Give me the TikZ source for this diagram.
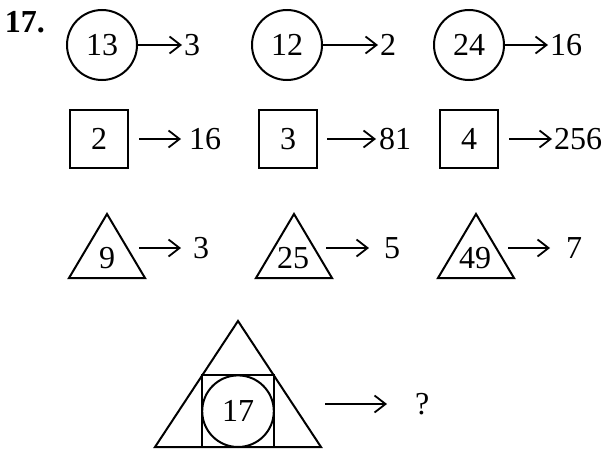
\documentclass[tikz,border=0pt]{standalone}
\usepackage{fontspec}
\setmainfont{Liberation Serif}
\usetikzlibrary{arrows.meta,calc}
\begin{document}
\begin{tikzpicture}[x=1pt,y=-1pt,
  every node/.style={font=\fontsize{32}{36}\selectfont, inner sep=0pt, outer sep=0pt},
  shp/.style={draw, line width=2pt, line join=miter},
  circ/.style={shp, circle, minimum size=70pt},
  sq/.style={shp, rectangle, minimum size=58pt},
  outtxt/.style={anchor=west},
  arr/.style={line width=1.8pt, -{Straight Barb[length=11pt,width=17pt,line width=1.8pt]}}]
\useasboundingbox (0,0) rectangle (605,450);

% label
\node[anchor=base west, font=\fontsize{32}{36}\selectfont\bfseries] (lbl) at (5,32) {17.};

% row 1: circles
\node[circ] (c1) at (102,45) {13};
\node[outtxt] (r11) at (184,45) {3};
\draw[arr, shorten >=2pt] (c1.east) -- (r11.west);

\node[circ] (c2) at (287,45) {12};
\node[outtxt] (r12) at (380,45) {2};
\draw[arr, shorten >=2pt] (c2.east) -- (r12.west);

\node[circ] (c3) at (469,45) {24};
\node[outtxt] (r13) at (550,45) {16};
\draw[arr, shorten >=2pt] (c3.east) -- (r13.west);

% row 2: squares
\node[sq] (b1) at (99,139) {2};
\node[outtxt] (r21) at (189,139) {16};
\draw[arr, shorten <=11pt, shorten >=8pt] (b1.east) -- (r21.west);

\node[sq] (b2) at (288,139) {3};
\node[outtxt] (r22) at (379,139) {81};
\draw[arr, shorten <=10pt, shorten >=3pt] (b2.east) -- (r22.west);

\node[sq] (b3) at (469,139) {4};
\node[outtxt] (r23) at (554,139) {256};
\draw[arr, shorten <=11pt, shorten >=2pt] (b3.east) -- (r23.west);

% row 3: triangles
\coordinate (t1a) at (107,214); \coordinate (t1b) at (69,278); \coordinate (t1c) at (145,278);
\draw[shp] (t1a) -- (t1b) -- (t1c) -- cycle;
\node (n31) at (107,258) {9};
\coordinate (s31) at (139,248);
\node[outtxt] (r31) at (193,248) {3};
\draw[arr, shorten >=12pt] (s31) -- (r31.west);

\coordinate (t2a) at (294,214); \coordinate (t2b) at (256,278); \coordinate (t2c) at (332,278);
\draw[shp] (t2a) -- (t2b) -- (t2c) -- cycle;
\node (n32) at (293,258) {25};
\coordinate (s32) at (326,248);
\node[outtxt] (r32) at (384,248) {5};
\draw[arr, shorten >=15pt] (s32) -- (r32.west);

\coordinate (t3a) at (476,214); \coordinate (t3b) at (438,278); \coordinate (t3c) at (514,278);
\draw[shp] (t3a) -- (t3b) -- (t3c) -- cycle;
\node (n33) at (475,258) {49};
\coordinate (s33) at (508,248);
\node[outtxt] (r33) at (566,248) {7};
\draw[arr, shorten >=16pt] (s33) -- (r33.west);

% bottom figure
\coordinate (A) at (238,321); \coordinate (B) at (155,447); \coordinate (C) at (321,447);
\draw[shp] (A) -- (B) -- (C) -- cycle;
\node[shp, rectangle, minimum size=71.6pt] (sqb) at (238,411.2) {};
\node[shp, circle, minimum size=71.6pt] (cb) at (238,411.2) {17};
\coordinate (s4) at (325,404);
\node[outtxt] (q) at (415,404) {?};
\draw[arr, shorten >=28pt] (s4) -- (q.west);
\end{tikzpicture}
\end{document}
